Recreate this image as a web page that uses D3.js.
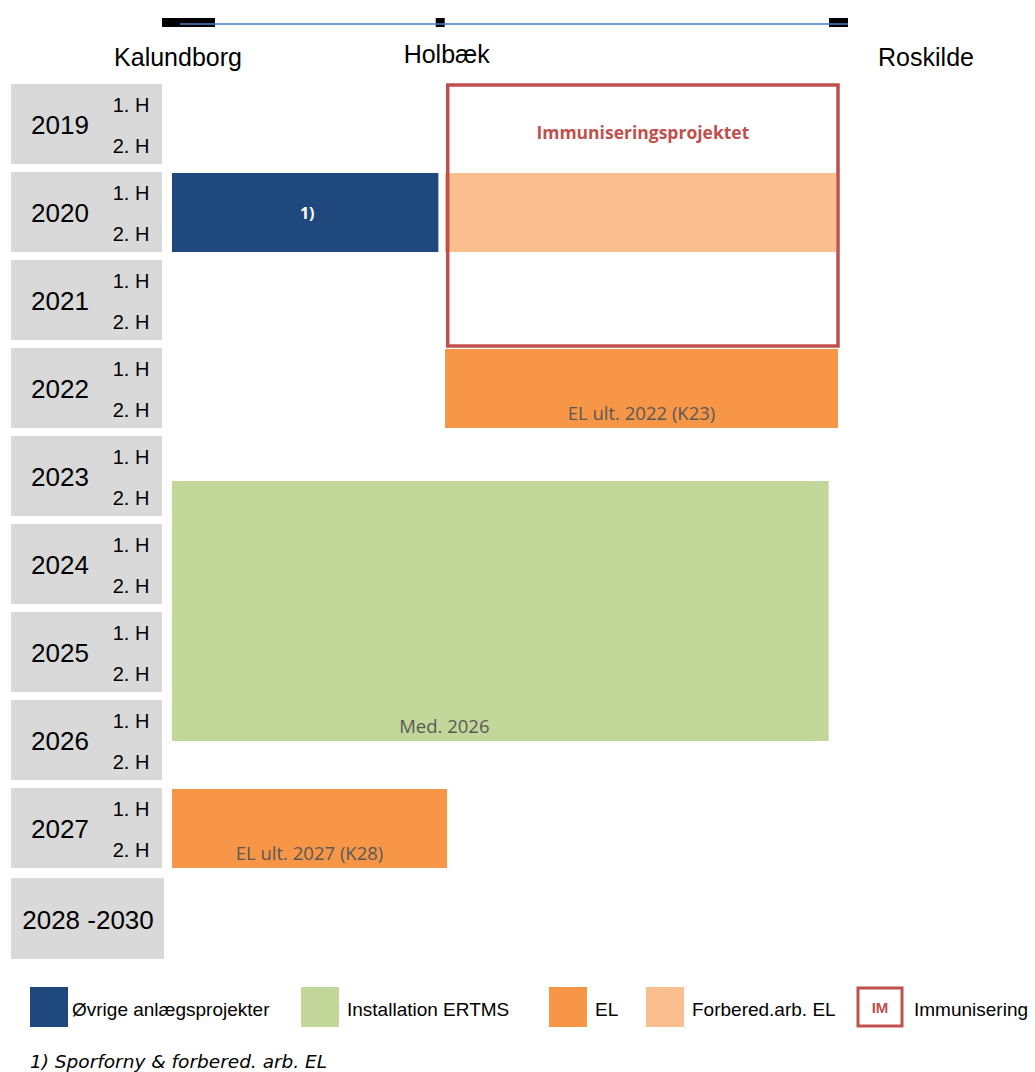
<!DOCTYPE html>
<html><head><meta charset="utf-8">
<script src="https://cdn.jsdelivr.net/npm/d3@7"></script>
<style>body{margin:0;background:#fff}svg{display:block}</style>
</head><body><svg id="c" width="1035" height="1072"></svg>
<script>
// ---- data ----
const stations = ["Kalundborg", "Holbæk", "Roskilde"];
const stationPos = [0, 0.405, 1];          // position along the line (0..1)
const years = ["2019","2020","2021","2022","2023","2024","2025","2026","2027"];
const yearStart = [2019,2020,2021,2022,2023,2024,2025,2026,2027];
const halfLabels = ["1. H", "2. H"];
const lastLabel = "2028 -2030";
const lastStart = 2028;

const barNames  = ["1)", "", "EL ult. 2022 (K23)", "Med. 2026", "EL ult. 2027 (K28)"];
const barType   = ["ovrige", "forb", "el", "ertms", "el"];
const barFrom   = [0, 0.41, 0.41, 0, 0];
const barTo     = [0.4, 0.997, 1, 0.986, 0.413];
const barStart  = [2020, 2020, 2022, 2023.5, 2027];
const barEnd    = [2021, 2021, 2023, 2026.5, 2028];

const imLabel = "Immuniseringsprojektet";
const imFrom = 0.414, imTo = 1, imStart = 2019, imEnd = 2022;

const legendKeys   = ["ovrige", "ertms", "el", "forb", "im"];
const legendLabels = ["Øvrige anlægsprojekter", "Installation ERTMS", "EL", "Forbered.arb. EL", "Immunisering"];
const footnote = "1) Sporforny & forbered. arb. EL";

const colors = {ovrige:"#1f497d", ertms:"#c4d79b", el:"#f79646", forb:"#f9bf8f", im:"#c0504d"};

// ---- scales ----
const svg = d3.select("#c");
const x = d3.scaleLinear().domain([0,1]).range([172, 838]);
const y = d3.scaleLinear().domain([2019, 2029]).range([85, 965]);
const gap = 9;

// ---- top line ----
const topG = svg.append("g");
const markW = [53, 9, 19], markDx = [-10, -6, -9];
stations.forEach((s,i)=>{
  topG.append("rect").attr("x", x(stationPos[i]) + markDx[i]).attr("y", 18).attr("width", markW[i]).attr("height", 9).attr("fill", "#000");
});
topG.append("line").attr("x1", x(0)+8).attr("x2", x(1)+10).attr("y1", 24).attr("y2", 24)
  .attr("stroke", "#4a7ebb").attr("stroke-width", 1.5);
const labelDx = [6, 5, 88], labelY = [58, 55, 58];
stations.forEach((s,i)=>{
  svg.append("text").attr("x", x(stationPos[i]) + labelDx[i]).attr("y", labelY[i] + 8)
    .attr("text-anchor","middle").attr("font-family","Liberation Sans, Arial").attr("font-size", 25)
    .attr("fill","#000").text(s);
});

// ---- year boxes ----
const yg = svg.append("g").attr("font-family","Liberation Sans, Arial").attr("fill","#000");
years.forEach((yr,i)=>{
  const y0 = y(yearStart[i]), y1 = y(yearStart[i]+1) - gap;
  yg.append("rect").attr("x", 11).attr("y", y0 - 1).attr("width", 151).attr("height", y1 - y0 + 1).attr("fill", "#d9d9d9");
  yg.append("text").attr("x", 60).attr("y", (y0+y1)/2 + 9).attr("text-anchor","middle").attr("font-size", 26).text(yr);
  halfLabels.forEach((h,j)=>{
    yg.append("text").attr("x", 131).attr("y", y(yearStart[i] + j*0.5) + 27 - j*3).attr("text-anchor","middle").attr("font-size", 20).text(h);
  });
});
{
  const y0 = y(lastStart), y1 = y(lastStart+1) - gap;
  yg.append("rect").attr("x", 11).attr("y", y0 + 1).attr("width", 153).attr("height", y1 - y0 + 2).attr("fill", "#d9d9d9");
  yg.append("text").attr("x", 88).attr("y", (y0+y1)/2 + 12).attr("text-anchor","middle").attr("font-size", 26).text(lastLabel);
}

// ---- bars ----
const bars = svg.append("g");
barNames.forEach((n,i)=>{
  const x0 = x(barFrom[i]), x1 = x(barTo[i]);
  const y0 = y(barStart[i]), y1 = y(barEnd[i]) - (barType[i]==="ertms" ? 4 : gap);
  bars.append("rect").attr("x", x0).attr("y", y0).attr("width", x1-x0).attr("height", y1-y0).attr("fill", colors[barType[i]]);
  if (n) {
    const isNote = barType[i]==="ovrige";
    bars.append("text").attr("x", isNote ? (x0+x1)/2 + 2 : (x0+x1)/2 + (barType[i]==="ertms" ? -56 : 0))
      .attr("y", isNote ? (y0+y1)/2 + 6 : y1 - 8)
      .attr("text-anchor","middle").attr("font-family","Open Sans, Lato, sans-serif")
      .attr("font-size", isNote ? 16 : 18.5).attr("font-weight", isNote ? 700 : 400)
      .attr("fill", isNote ? "#fff" : "#595959").text(n);
  }
});

// ---- immunisering box ----
svg.append("rect").attr("x", x(imFrom)).attr("y", y(imStart)).attr("width", x(imTo)-x(imFrom)).attr("height", y(imEnd)-3-y(imStart))
  .attr("fill","none").attr("stroke", colors.im).attr("stroke-width", 3.5);
svg.append("text").attr("x", (x(imFrom)+x(imTo))/2).attr("y", y(imStart)+54).attr("text-anchor","middle")
  .attr("font-family","Open Sans, Lato, sans-serif").attr("font-weight",700).attr("font-size", 17.5)
  .attr("fill", colors.im).text(imLabel);

// ---- legend ----
const legX = [30, 301, 549, 646, 857];
const lg = svg.append("g").attr("font-family","Liberation Sans, Arial");
legendKeys.forEach((k,i)=>{
  if (k === "im") {
    lg.append("rect").attr("x", legX[i]+1).attr("y", 988).attr("width", 44).attr("height", 38).attr("fill","#fff").attr("stroke", colors.im).attr("stroke-width", 3);
    lg.append("text").attr("x", legX[i]+23).attr("y", 1013).attr("text-anchor","middle").attr("font-weight",700).attr("font-size", 15).attr("fill", colors.im).text("IM");
    lg.append("text").attr("x", legX[i]+57).attr("y", 1016).attr("font-size", 19).attr("fill","#000").text(legendLabels[i]);
  } else {
    lg.append("rect").attr("x", legX[i]).attr("y", 987).attr("width", 38).attr("height", 40).attr("fill", colors[k]);
    lg.append("text").attr("x", legX[i]+42 + (k==="ovrige"?0:4)).attr("y", 1016).attr("font-size", 19).attr("fill","#000").text(legendLabels[i]);
  }
});
svg.append("text").attr("x", 30).attr("y", 1068).attr("font-family","DejaVu Sans, Verdana").attr("font-style","italic")
  .attr("font-size", 18.5).attr("fill","#000").text(footnote);
</script></body></html>
